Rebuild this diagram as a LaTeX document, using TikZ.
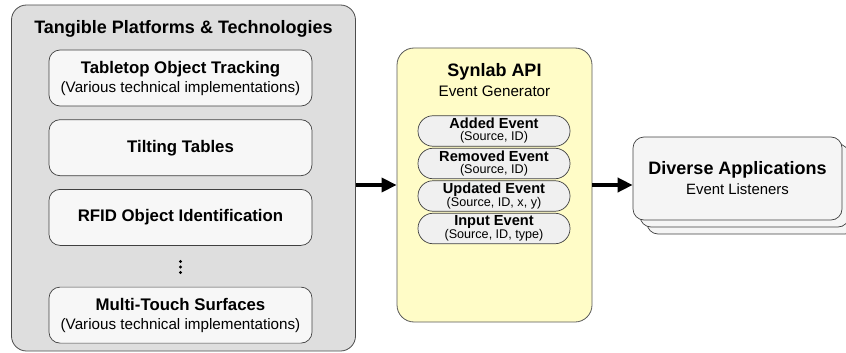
\documentclass[tikz,border=0pt]{standalone}
\usepackage{fontspec}
\setmainfont{Liberation Sans}
\usetikzlibrary{arrows.meta,positioning}

\begin{document}
\begin{tikzpicture}[x=1pt,y=-1pt,
    node distance=13pt,
    every node/.style={align=center,inner sep=0pt},
    panel/.style={draw=black!70,line width=0.8pt,rounded corners=15pt},
    headfont/.style={font=\bfseries\fontsize{18}{20}\selectfont},
    subfont/.style={font=\fontsize{15.2}{18}\selectfont},
    techbox/.style={draw=black!75,fill=black!3,line width=0.7pt,rounded corners=11pt,
        minimum width=263pt,minimum height=56pt,font=\fontsize{15.2}{19}\selectfont},
    pill/.style={draw=black!75,fill=black!6,line width=0.7pt,rounded corners=15pt,
        minimum width=152pt,minimum height=30.5pt,font=\fontsize{12.6}{12}\selectfont},
    appbox/.style={draw=black!75,fill=black!4,line width=0.7pt,rounded corners=11pt,
        minimum width=209pt,minimum height=83pt},
    arrow/.style={-{Triangle[length=15pt,width=14pt]},line width=3.6pt}
]
\useasboundingbox (0,0) rectangle (846,353);

% tangible platforms
\node[panel,fill=black!13,minimum width=344pt,minimum height=346pt] (plat) at (183.5,178) {};
\node[headfont] (platT) at (183.5,29) {Tangible Platforms \& Technologies};
\node[techbox] (track) at (180.5,78) {{\bfseries\fontsize{16.8}{19}\selectfont Tabletop Object Tracking}\\(Various technical implementations)};
\node[techbox,below=of track] (tilt) {{\bfseries\fontsize{16.8}{19}\selectfont Tilting Tables}};
\node[techbox,below=of tilt] (rfid) {{\bfseries\fontsize{16.8}{19}\selectfont RFID Object Identification}};
\node[techbox,below=41pt of rfid] (touch) {{\bfseries\fontsize{16.8}{19}\selectfont Multi-Touch Surfaces}\\(Various technical implementations)};
\foreach \i in {0,1,2}
    \fill (180.5,261.5+\i*5.5) circle (1.6);

% synlab api
\node[panel,draw=black!65,fill=yellow!22,minimum width=195pt,minimum height=274pt,rounded corners=17pt] (api) at (494.5,185) {};
\node[headfont] (apiT) at (494.5,72) {Synlab API};
\node[subfont] (apiS) at (494.5,91) {Event Generator};
\node[pill] (added) at (494,131) {{\bfseries\fontsize{14.6}{12}\selectfont Added Event}\\(Source, ID)};
\node[pill,below=1.3pt of added] (removed) {{\bfseries\fontsize{14.6}{12}\selectfont Removed Event}\\(Source, ID)};
\node[pill,below=1.3pt of removed] (updated) {{\bfseries\fontsize{14.6}{12}\selectfont Updated Event}\\(Source, ID, x, y)};
\node[pill,below=1.3pt of updated] (input) {{\bfseries\fontsize{14.6}{12}\selectfont Input Event}\\(Source, ID, type)};

% applications
\node[appbox] (app3) at (751.5,192.5) {};
\node[appbox] (app2) at (744.5,185.5) {};
\node[appbox,font=\fontsize{14.9}{20}\selectfont] (app) at (737.5,178.5) {{\bfseries\fontsize{18}{20}\selectfont Diverse Applications}\\Event Listeners};

\draw[arrow] (plat.east |- api) -- (api.west);
\draw[arrow] (api.east) -- (api.east -| app.west);
\end{tikzpicture}
\end{document}
